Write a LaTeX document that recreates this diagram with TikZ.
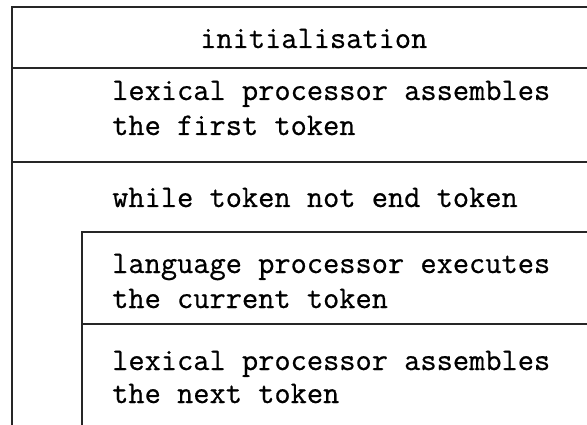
\documentclass[tikz,border=0pt]{standalone}
\usepackage{fontspec}
\setmonofont{Latin Modern Mono}[FakeBold=0.6]
\begin{document}
\begin{tikzpicture}[x=1pt,y=-1pt,
  rule/.style={line width=1.4pt,black!85},
  txt/.style={anchor=base west,inner sep=0pt,
    font=\fontsize{31.5}{35}\selectfont\ttfamily}]
\useasboundingbox (0,0) rectangle (587,425);

% outer sequence block
\draw[rule] (587,7) -- (12,7) -- (12,425);
\draw[rule] (12,68) -- (587,68);
\draw[rule] (12,162) -- (587,162);

% loop body block
\draw[rule] (587,232) -- (82,232) -- (82,425);
\draw[rule] (82,324) -- (587,324);

% statements
\node[txt] (init) at (200,48) {initialisation};
\node[txt] (lexA1) at (112,100) {lexical processor assembles};
\node[txt] (lexA2) at (112,135) {the first token};
\node[txt] (loop) at (112,207) {while token not end token};
\node[txt] (exec1) at (112,273) {language processor executes};
\node[txt] (exec2) at (112,308) {the current token};
\node[txt] (lexB1) at (112,370) {lexical processor assembles};
\node[txt] (lexB2) at (112,403) {the next token};
\end{tikzpicture}
\end{document}
